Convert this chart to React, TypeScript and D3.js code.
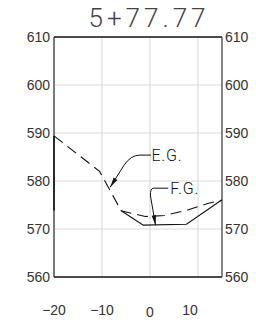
import React from 'react';
import * as d3 from 'd3';

const xTicks = [-20, -10, 0, 10];
const yTicks = [560, 570, 580, 590, 600, 610];
const xTickNudge = [0, 0, 0, -8];
const xTickDrop = [0, 0, 2, 0];

// existing ground (dashed)
const egOffset = [-20, -10.5, -6, -1, 3, 8, 12, 15];
const egElev = [589.4, 582, 573.8, 572.6, 572.8, 574, 575.3, 576];

// finished grade (solid)
const fgOffset = [-6, -1.4, 7.6, 15];
const fgElev = [573.8, 570.8, 571, 576.1];

// vertical edge segment on the left
const edgeElev = [589.4, 573.8];

const App: React.FC = () => {
  const width = 256;
  const height = 323;
  const margin = { top: 37, right: 34, bottom: 46, left: 54 };

  const x = d3.scaleLinear().domain([-20, 15]).range([margin.left, width - margin.right]);
  const y = d3.scaleLinear().domain([560, 610]).range([height - margin.bottom, margin.top]);

  const line = d3.line<[number, number]>().x(d => x(d[0])).y(d => y(d[1]));
  const eg = line(egOffset.map((o, i) => [o, egElev[i]] as [number, number])) || '';
  const fg = line(fgOffset.map((o, i) => [o, fgElev[i]] as [number, number])) || '';

  const labelFont = "'Liberation Sans', Arial, sans-serif";

  // leader arrows
  const arrow = (tx: number, ty: number, ang: number) => {
    const len = 10, w = 2.2;
    const bx = tx - len * Math.cos(ang), by = ty - len * Math.sin(ang);
    const px = -Math.sin(ang) * w, py = Math.cos(ang) * w;
    return `M${tx},${ty}L${bx + px},${by + py}L${bx - px},${by - py}Z`;
  };

  const egY = y(585.4);
  const egTip: [number, number] = [x(-8.3), y(578.7)];
  const egBend: [number, number] = [x(-5.4), y(583.3)];
  const fgY = y(578.5);
  const fgBend: [number, number] = [x(0.1), y(576.9)];
  const fgTip: [number, number] = [x(1.15), y(570.8)];

  return (
    <svg width={width} height={height} style={{ position: 'absolute', left: 0, top: 0, background: '#fff' }}>
      <text x={149} y={27} textAnchor="middle" fontFamily="Roboto, sans-serif" fontWeight={300}
        fontSize={26} letterSpacing={4} fill="#444">5+77.77</text>

      {/* grid */}
      {xTicks.filter(t => t > -20).map(t => (
        <line key={'gx' + t} x1={x(t)} x2={x(t)} y1={y(560)} y2={y(610)} stroke="#dcdcdc" strokeWidth={1.2} />
      ))}
      {yTicks.filter(t => t > 560 && t < 610).map(t => (
        <line key={'gy' + t} x1={x(-20)} x2={x(15)} y1={y(t)} y2={y(t)} stroke="#dcdcdc" strokeWidth={1.2} />
      ))}

      {/* frame */}
      <line x1={x(-20)} x2={x(15)} y1={y(610)} y2={y(610)} stroke="#111" strokeWidth={1.3} />
      <line x1={x(-20)} x2={x(15)} y1={y(560)} y2={y(560)} stroke="#111" strokeWidth={1.3} />
      <line x1={x(-20)} x2={x(-20)} y1={y(560)} y2={y(610)} stroke="#333" strokeWidth={1.3} />
      <line x1={x(15)} x2={x(15)} y1={y(560)} y2={y(610)} stroke="#444" strokeWidth={1.3} />
      <line x1={x(-20)} x2={x(-20)} y1={y(edgeElev[0])} y2={y(edgeElev[1])} stroke="#222" strokeWidth={1.8} />

      {/* y labels */}
      {yTicks.map(t => (
        <g key={'yl' + t} fontFamily={labelFont} fontSize={14} fill="#333">
          <text x={x(-20) - 4} y={y(t) + 5} textAnchor="end">{t}</text>
          <text x={x(15) + 3} y={y(t) + 5} textAnchor="start">{t}</text>
        </g>
      ))}

      {/* x labels */}
      {xTicks.map((t, i) => (
        <text key={'xl' + t} x={x(t) + xTickNudge[i]} y={315 + xTickDrop[i]} textAnchor="middle"
          fontFamily={labelFont} fontSize={14} fill="#333">
          {t < 0 ? '\u2212' + Math.abs(t) : t}
        </text>
      ))}

      {/* ground lines */}
      <path d={eg} fill="none" stroke="#111" strokeWidth={1.1} strokeDasharray="11,6" />
      <path d={fg} fill="none" stroke="#111" strokeWidth={1.1} />

      {/* E.G. leader */}
      <path d={`M${x(0.2)},${egY}H${x(-2.1)}Q${x(-4)},${egY} ${egBend[0]},${egBend[1]}L${egTip[0]},${egTip[1]}`}
        fill="none" stroke="#111" strokeWidth={1} />
      <path d={arrow(egTip[0], egTip[1], Math.atan2(egTip[1] - egBend[1], egTip[0] - egBend[0]))} fill="#111" />
      <text x={x(0.3)} y={egY + 6} fontFamily="Roboto, sans-serif" fontWeight={300} fontSize={16}
        letterSpacing={0.8} fill="#111">E.G.</text>

      {/* F.G. leader */}
      <path d={`M${x(3.8)},${fgY}H${x(0.75)}Q${x(0)},${fgY} ${fgBend[0]},${fgBend[1]}L${fgTip[0]},${fgTip[1]}`}
        fill="none" stroke="#111" strokeWidth={1} />
      <path d={arrow(fgTip[0], fgTip[1], Math.atan2(fgTip[1] - fgBend[1], fgTip[0] - fgBend[0]))} fill="#111" />
      <text x={x(4.2)} y={fgY + 6} fontFamily="Roboto, sans-serif" fontWeight={300} fontSize={16}
        letterSpacing={0.8} fill="#111">F.G.</text>
    </svg>
  );
};

export default App;
